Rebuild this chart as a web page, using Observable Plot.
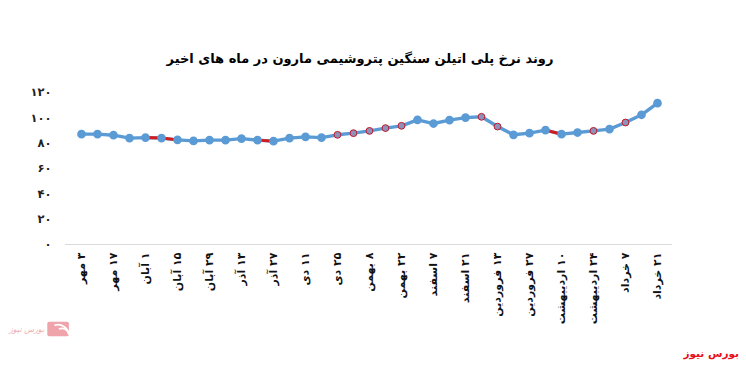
<!DOCTYPE html>
<html>
<head>
<meta charset="utf-8">
<script src="https://cdn.jsdelivr.net/npm/d3@7"></script>
<script src="https://cdn.jsdelivr.net/npm/@observablehq/plot@0.6"></script>
<style>
  html, body { margin: 0; padding: 0; background: #fff; }
  #wrap { position: relative; width: 746px; height: 366px; overflow: hidden; font-family: "DejaVu Sans", sans-serif; }
  #title { position: absolute; left: 0; width: 720px; top: 51px; text-align: center; font-size: 13px; font-weight: bold; color: #000; direction: rtl; }
  #src { position: absolute; right: 7px; top: 347px; font-size: 10.5px; font-weight: bold; color: #e8101a; direction: rtl; }
  #logo { position: absolute; left: 9px; top: 320px; display: flex; align-items: center; gap: 3px; opacity: 0.5; }
  #logo span { font-size: 8px; color: #e05a6a; font-style: italic; direction: rtl; }
  #chart { position: absolute; left: 0; top: 0; }
</style>
</head>
<body>
<div id="wrap">
  <div id="chart"></div>
  <div id="title">روند نرخ پلی اتیلن سنگین پتروشیمی مارون در ماه های اخیر</div>
  <div id="logo">
    <span>بورس نیوز</span>
    <svg width="24" height="18" viewBox="0 0 26 20">
      <rect x="0" y="2" width="24" height="16" rx="2" fill="#e04a5a"/>
      <path d="M24 16 A12 12 0 0 0 8 6" stroke="#fff" stroke-width="2" fill="none"/>
      <path d="M24 16 A8 8 0 0 0 13 10" stroke="#fff" stroke-width="2" fill="none"/>
    </svg>
  </div>
  <div id="src">بورس نیوز</div>
</div>
<script>
// weekly observations (index 0..36)
const values = [87.1, 87.1, 86.3, 84.0, 84.4, 84.0, 82.6, 81.8, 82.4, 82.4,
                83.6, 82.4, 81.6, 84.0, 85.0, 84.4, 86.6, 87.9, 89.7, 91.9,
                93.7, 98.4, 95.5, 98.2, 100.2, 100.8, 93.1, 86.6, 87.9, 90.3,
                87.1, 88.4, 89.7, 91.1, 96.3, 102.4, 111.6];
// tick labels on every second week
const tickLabels = ["۳ مهر","۱۷ مهر","۱ آبان","۱۵ آبان","۲۹ آبان","۱۳ آذر","۲۷ آذر","۱۱ دی","۲۵ دی",
                    "۸ بهمن","۲۲ بهمن","۷ اسفند","۲۱ اسفند","۱۳ فروردین","۲۷ فروردین",
                    "۱۰ اردیبهشت","۲۴ اردیبهشت","۷ خرداد","۲۱ خرداد"];
// segments (start index) where the red series shows
const redSegments = [4, 5, 11, 29];
// markers drawn with red outline
const redMarkers = [16, 17, 18, 19, 20, 25, 26, 32, 34];
const yTicks = [0, 20, 40, 60, 80, 100, 120];

const faDigits = n => String(n).replace(/\d/g, d => "۰۱۲۳۴۵۶۷۸۹"[d]);

const data = values.map((v, i) => ({i, v}));
const segData = redSegments.flatMap(s => [{seg: s, i: s, v: values[s]}, {seg: s, i: s + 1, v: values[s + 1]}]);
const redDots = data.filter(d => redMarkers.includes(d.i));
const blueDots = data.filter(d => !redMarkers.includes(d.i));

const chart = Plot.plot({
  width: 746,
  height: 366,
  marginLeft: 65,
  marginRight: 74,
  marginTop: 92,
  marginBottom: 122,
  style: {fontFamily: "DejaVu Sans, sans-serif", background: "transparent"},
  x: {type: "point", domain: d3.range(values.length), padding: 0.5},
  y: {domain: [0, 120]},
  marks: [
    Plot.ruleY([0], {stroke: "#d9d9d9", strokeWidth: 1}),
    Plot.axisY({ticks: yTicks, tickSize: 0, tickPadding: 14, tickFormat: faDigits, fontSize: 11.5, fontWeight: "bold", fill: "#222", label: null}),
    Plot.axisX({ticks: d3.range(0, values.length, 2), tickSize: 0, tickPadding: 8, tickRotate: -90,
                tickFormat: d => "\u200F" + tickLabels[d / 2], fontSize: 11, fontWeight: "bold", fill: "#111", label: null}),
    Plot.line(data, {x: "i", y: "v", stroke: "#5b9bd5", strokeWidth: 3.4, curve: "linear"}),
    Plot.line(segData, {x: "i", y: "v", z: "seg", stroke: "#d41b1b", strokeWidth: 3}),
    Plot.dot(blueDots, {x: "i", y: "v", r: 3.6, fill: "#5b9bd5", stroke: "#5b9bd5"}),
    Plot.dot(redDots, {x: "i", y: "v", r: 3.4, fill: "#8c92b8", stroke: "#c0182e", strokeWidth: 1})
  ]
});
document.getElementById("chart").append(chart);
</script>
</body>
</html>
